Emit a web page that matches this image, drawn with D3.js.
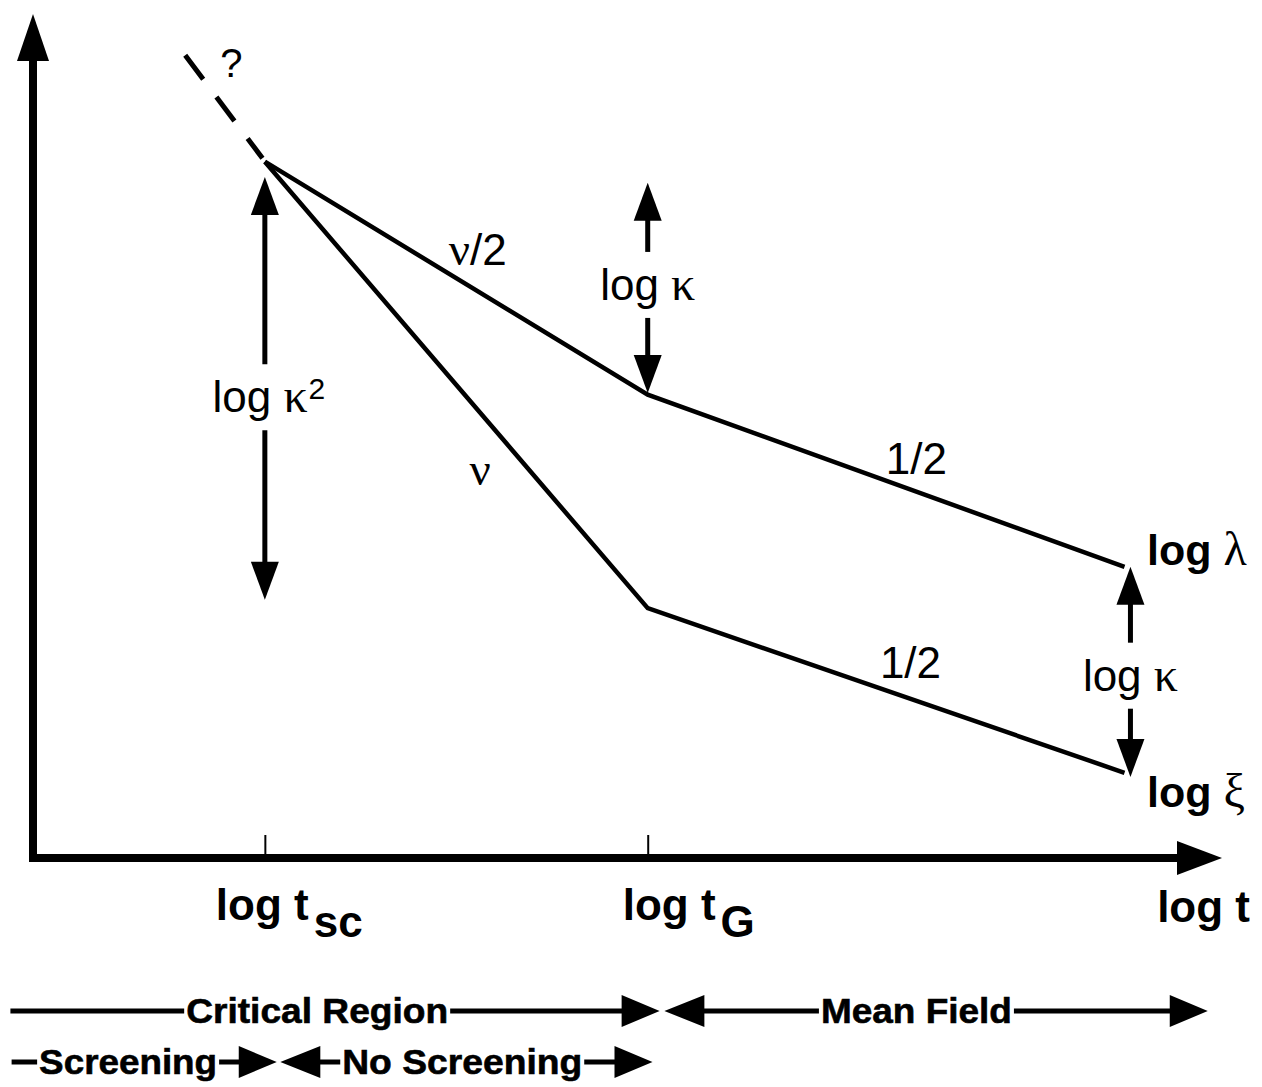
<!DOCTYPE html>
<html>
<head>
<meta charset="utf-8">
<script src="https://cdn.jsdelivr.net/npm/d3@7"></script>
<style>
  body { margin: 0; background: #fff; }
  svg { display: block; }
  text { font-family: "Liberation Sans", Arial, Helvetica, sans-serif; fill: #000; }
  .greek { font-family: "Liberation Serif", "Times New Roman", serif; font-weight: normal; }
</style>
</head>
<body>
<svg id="chart" width="1262" height="1087"></svg>
<script>
// values in (log t, log length) units
const lambdaPts = [[19.5, 82.5], [51.7, 54.9], [91.8, 34.5]];
const xiPts = [[19.5, 82.5], [51.7, 29.6], [91.8, 10.1]];
const unknownPts = [[12.8, 95.1], [19.3, 82.9]];

const xTicks = [19.5, 51.7];
const xTickMain = ["log t", "log t"];
const xTickSub = ["sc", "G"];

const slopeText = ["ν/2", "ν", "1/2", "1/2"];
const slopeAt = [[37.4, 70.3], [37.6, 44.2], [74.3, 45.5], [73.8, 21.3]];

// double arrows labelled log kappa
const kappaX = [19.5, 51.7, 92.3];
const kappaTop = [80.7, 80.0, 34.5];
const kappaBottom = [30.6, 55.1, 9.6];
const kappaMid = [54.6, 67.9, 21.6];
const kappaPow = ["2", "", ""];

const endSym = ["λ", "ξ"];
const endAt = [[93.7, 34.7], [93.7, 6.0]];

// regime bars under the axis
const row1Names = ["Critical Region", "Mean Field"];
const row1From = [-1.9, 53.1];
const row1To = [52.7, 98.8];
const row1Mid = [23.9, 74.3];
const row1LeftHead = [false, true];

const row2Names = ["Screening", "No Screening"];
const row2From = [-1.8, 20.8];
const row2To = [20.5, 52.1];
const row2Mid = [8.0, 36.1];
const row2LeftHead = [false, true];

const svg = d3.select("#chart");
const x = d3.scaleLinear().domain([0, 100]).range([33, 1222]);
const y = d3.scaleLinear().domain([0, 100]).range([858, 14]);

function head(tx, ty, dx, dy, len, half) {
  const bx = tx - dx * len, by = ty - dy * len;
  const px = -dy, py = dx;
  return `M${tx},${ty}L${bx + px * half},${by + py * half}L${bx - px * half},${by - py * half}Z`;
}

// axes
const axisG = svg.append("g");
axisG.append("line")
  .attr("x1", x(0)).attr("y1", y(0) + 4)
  .attr("x2", x(0)).attr("y2", y(100) + 44)
  .attr("stroke", "#000").attr("stroke-width", 8);
axisG.append("path").attr("d", head(x(0), y(100), 0, -1, 47, 16)).attr("fill", "#000");
axisG.append("line")
  .attr("x1", x(0) - 4).attr("y1", y(0))
  .attr("x2", x(100) - 44).attr("y2", y(0))
  .attr("stroke", "#000").attr("stroke-width", 8);
axisG.append("path").attr("d", head(x(100), y(0), 1, 0, 45, 17)).attr("fill", "#000");

const tickAxis = svg.append("g")
  .attr("transform", `translate(0,${y(0)})`)
  .call(d3.axisBottom(x).tickValues(xTicks).tickSize(-23).tickFormat(""));
tickAxis.select(".domain").remove();
tickAxis.selectAll(".tick line").attr("stroke", "#000").attr("stroke-width", 2);

// tick labels
const tl = svg.selectAll(".tlab").data(xTicks).enter().append("text")
  .attr("class", "tlab")
  .attr("x", (d, i) => x(d) + (i === 0 ? -49 : -25))
  .attr("y", y(0) + 62)
  .attr("font-size", 44).attr("font-weight", "bold");
tl.append("tspan").text((d, i) => xTickMain[i]);
tl.append("tspan").attr("dy", 17).attr("dx", 5).text((d, i) => xTickSub[i]);

svg.append("text")
  .attr("x", x(100) + 28).attr("y", y(0) + 64)
  .attr("text-anchor", "end")
  .attr("font-size", 44).attr("font-weight", "bold")
  .text("log t");

// curves
const line = d3.line().x(d => x(d[0])).y(d => y(d[1]));
svg.append("path").datum(lambdaPts).attr("d", line)
  .attr("fill", "none").attr("stroke", "#000").attr("stroke-width", 4.5);
svg.append("path").datum(xiPts).attr("d", line)
  .attr("fill", "none").attr("stroke", "#000").attr("stroke-width", 4.5);
svg.append("path").datum(unknownPts).attr("d", line)
  .attr("fill", "none").attr("stroke", "#000").attr("stroke-width", 5)
  .attr("stroke-dasharray", "30,22");
svg.append("text")
  .attr("x", x(unknownPts[0][0]) + 35).attr("y", y(unknownPts[0][1]) + 22)
  .attr("font-size", 40).text("?");

// slope labels
svg.selectAll(".slope").data(slopeText).enter().append("text")
  .attr("class", "slope")
  .attr("x", (d, i) => x(slopeAt[i][0]))
  .attr("y", (d, i) => y(slopeAt[i][1]))
  .attr("text-anchor", "middle")
  .attr("font-size", 44)
  .each(function(d) {
    const t = d3.select(this);
    if (d.startsWith("ν")) {
      t.append("tspan").attr("class", "greek").attr("font-size", 47).text("ν");
      t.append("tspan").text(d.slice(1));
    } else {
      t.text(d);
    }
  });

// kappa double arrows
const gap = 33, hl = 38, hw = 14;
kappaX.forEach((kx, i) => {
  const px = x(kx), yt = y(kappaTop[i]), yb = y(kappaBottom[i]), ym = y(kappaMid[i]);
  svg.append("path").attr("d", head(px, yt, 0, -1, hl, hw)).attr("fill", "#000");
  svg.append("path").attr("d", head(px, yb, 0, 1, hl, hw)).attr("fill", "#000");
  svg.append("line").attr("x1", px).attr("x2", px)
    .attr("y1", yt + hl - 2).attr("y2", ym - gap)
    .attr("stroke", "#000").attr("stroke-width", 5);
  svg.append("line").attr("x1", px).attr("x2", px)
    .attr("y1", ym + gap).attr("y2", yb - hl + 2)
    .attr("stroke", "#000").attr("stroke-width", 5);
  const t = svg.append("text")
    .attr("x", px + (kappaPow[i] ? 4 : 0)).attr("y", ym + 15)
    .attr("text-anchor", "middle").attr("font-size", 44);
  t.append("tspan").text("log ");
  t.append("tspan").attr("class", "greek").attr("font-size", 48).text("κ");
  if (kappaPow[i]) {
    t.append("tspan").attr("font-size", 30).attr("dy", -13).attr("dx", 1).text(kappaPow[i]);
  }
});

// end labels
svg.selectAll(".endlab").data(endSym).enter().append("text")
  .attr("class", "endlab")
  .attr("x", (d, i) => x(endAt[i][0]))
  .attr("y", (d, i) => y(endAt[i][1]))
  .attr("font-size", 43).attr("font-weight", "bold")
  .each(function(d) {
    const t = d3.select(this);
    t.append("tspan").text("log ");
    t.append("tspan").attr("class", "greek").attr("font-size", 48).text(d);
  });

// regime bars
function regimeRow(names, from, to, mid, leftHead, rowY, widths) {
  names.forEach((n, i) => {
    const a = x(from[i]), b = x(to[i]), m = x(mid[i]);
    const w = widths[i];
    const left = leftHead[i] ? a + 38 : a;
    if (leftHead[i]) svg.append("path").attr("d", head(a, rowY, -1, 0, 40, 16)).attr("fill", "#000");
    svg.append("path").attr("d", head(b, rowY, 1, 0, 38, 16)).attr("fill", "#000");
    svg.append("line").attr("x1", left).attr("x2", m - w / 2 - 2)
      .attr("y1", rowY).attr("y2", rowY).attr("stroke", "#000").attr("stroke-width", 5);
    svg.append("line").attr("x1", m + w / 2 + 2).attr("x2", b - 36)
      .attr("y1", rowY).attr("y2", rowY).attr("stroke", "#000").attr("stroke-width", 5);
    svg.append("text").attr("x", m - w / 2).attr("y", rowY + 12)
      .attr("font-size", 35).attr("font-weight", "bold")
      .attr("stroke", "#000").attr("stroke-width", 0.6)
      .attr("textLength", w).attr("lengthAdjust", "spacingAndGlyphs")
      .text(n);
  });
}
regimeRow(row1Names, row1From, row1To, row1Mid, row1LeftHead, 1011, [262, 191]);
regimeRow(row2Names, row2From, row2To, row2Mid, row2LeftHead, 1062, [178, 240]);
</script>
</body>
</html>
